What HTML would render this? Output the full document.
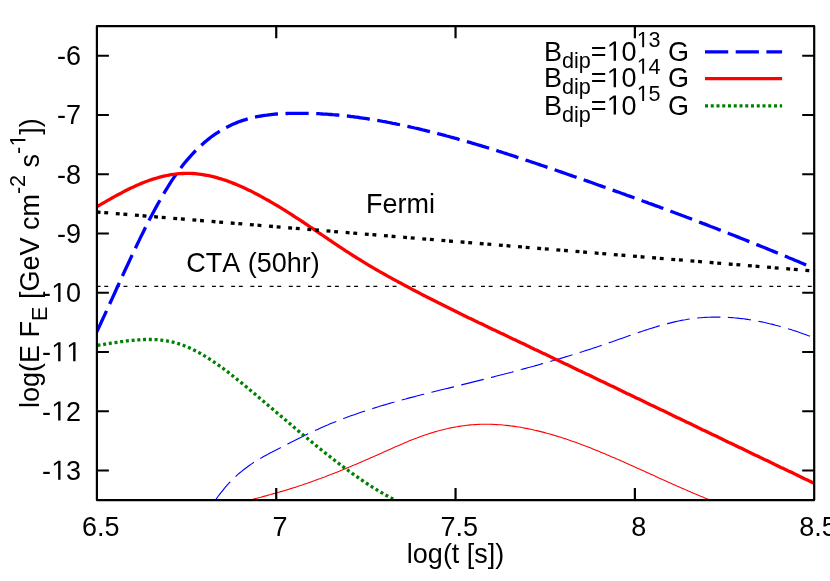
<!DOCTYPE html>
<html>
<head>
<meta charset="utf-8">
<title>plot</title>
<style>
html,body{margin:0;padding:0;background:#fff;}
body{width:830px;height:581px;overflow:hidden;}
svg{display:block;will-change:transform;}
text{font-family:"Liberation Sans",sans-serif;font-size:27.0px;fill:#000;font-kerning:none;}
.o{fill:none;}
</style>
</head>
<body>
<svg width="830" height="581" viewBox="0 0 830 581">
<rect width="830" height="581" fill="#fff"/>
<defs><clipPath id="c"><rect x="96.9" y="26.15" width="717.30" height="473.95"/></clipPath></defs>
<g clip-path="url(#c)" fill="none">
<path d="M215.6,499.8 L217.6,497.0 L219.6,494.3 L221.6,491.8 L223.6,489.3 L225.6,486.9 L227.6,484.7 L229.6,482.5 L231.6,480.5 L233.6,478.5 L235.6,476.6 L237.6,474.7 L239.6,473.0 L241.6,471.3 L243.6,469.7 L245.6,468.2 L247.6,466.7 L249.6,465.2 L251.6,463.9 L253.6,462.5 L255.6,461.3 L257.6,460.0 L259.6,458.8 L261.6,457.7 L263.6,456.5 L265.6,455.4 L267.6,454.4 L269.6,453.3 L271.6,452.3 L273.6,451.2 L275.6,450.2 L277.6,449.2 L279.6,448.2 L281.6,447.2 L283.6,446.1 L285.6,445.1 L287.6,444.1 L289.6,443.1 L291.6,442.1 L293.6,441.1 L295.6,440.0 L297.6,439.0 L299.6,438.0 L301.6,437.0 L303.6,436.0 L305.6,435.1 L307.6,434.1 L309.6,433.1 L311.6,432.2 L313.6,431.2 L315.6,430.3 L317.6,429.4 L319.6,428.5 L321.6,427.6 L323.6,426.7 L325.6,425.8 L327.6,425.0 L329.6,424.1 L331.6,423.3 L333.6,422.5 L335.6,421.7 L337.6,420.9 L339.6,420.1 L341.6,419.3 L343.6,418.5 L345.6,417.8 L347.6,417.0 L349.6,416.3 L351.6,415.6 L353.6,414.9 L355.6,414.2 L357.6,413.5 L359.6,412.8 L361.6,412.1 L363.6,411.4 L365.6,410.8 L367.6,410.1 L369.6,409.5 L371.6,408.8 L373.6,408.2 L375.6,407.6 L377.6,407.0 L379.6,406.3 L381.6,405.7 L383.6,405.1 L385.6,404.6 L387.6,404.0 L389.6,403.4 L391.6,402.8 L393.6,402.3 L395.6,401.7 L397.6,401.1 L399.6,400.6 L401.6,400.0 L403.6,399.5 L405.6,399.0 L407.6,398.4 L409.6,397.9 L411.6,397.4 L413.6,396.9 L415.6,396.3 L417.6,395.8 L419.6,395.3 L421.6,394.8 L423.6,394.3 L425.6,393.8 L427.6,393.3 L429.6,392.8 L431.6,392.3 L433.6,391.8 L435.6,391.3 L437.6,390.8 L439.6,390.3 L441.6,389.8 L443.6,389.3 L445.6,388.8 L447.6,388.4 L449.6,387.9 L451.6,387.4 L453.6,386.9 L455.6,386.4 L457.6,385.9 L459.6,385.4 L461.6,384.9 L463.6,384.4 L465.6,383.9 L467.6,383.4 L469.6,382.9 L471.6,382.4 L473.6,381.9 L475.6,381.4 L477.6,380.9 L479.6,380.4 L481.6,379.9 L483.6,379.4 L485.6,378.9 L487.6,378.4 L489.6,377.9 L491.6,377.4 L493.6,376.9 L495.6,376.3 L497.6,375.8 L499.6,375.3 L501.6,374.8 L503.6,374.3 L505.6,373.7 L507.6,373.2 L509.6,372.7 L511.6,372.2 L513.6,371.6 L515.6,371.1 L517.6,370.5 L519.6,370.0 L521.6,369.5 L523.6,368.9 L525.6,368.4 L527.6,367.8 L529.6,367.3 L531.6,366.7 L533.6,366.2 L535.6,365.6 L537.6,365.1 L539.6,364.5 L541.6,363.9 L543.6,363.4 L545.6,362.8 L547.6,362.2 L549.6,361.6 L551.6,361.0 L553.6,360.5 L555.6,359.9 L557.6,359.3 L559.6,358.7 L561.6,358.1 L563.6,357.5 L565.6,356.9 L567.6,356.3 L569.6,355.7 L571.6,355.1 L573.6,354.4 L575.6,353.8 L577.6,353.2 L579.6,352.6 L581.6,351.9 L583.6,351.3 L585.6,350.6 L587.6,350.0 L589.6,349.4 L591.6,348.7 L593.6,348.0 L595.6,347.4 L597.6,346.7 L599.6,346.0 L601.6,345.4 L603.6,344.7 L605.6,344.0 L607.6,343.3 L609.6,342.6 L611.6,341.9 L613.6,341.2 L615.6,340.5 L617.6,339.8 L619.6,339.1 L621.6,338.4 L623.6,337.7 L625.6,337.0 L627.6,336.3 L629.6,335.6 L631.6,334.9 L633.6,334.2 L635.6,333.5 L637.6,332.8 L639.6,332.1 L641.6,331.5 L643.6,330.8 L645.6,330.1 L647.6,329.5 L649.6,328.8 L651.6,328.2 L653.6,327.6 L655.6,327.0 L657.6,326.4 L659.6,325.8 L661.6,325.2 L663.6,324.6 L665.6,324.1 L667.6,323.6 L669.6,323.1 L671.6,322.6 L673.6,322.1 L675.6,321.6 L677.6,321.2 L679.6,320.8 L681.6,320.4 L683.6,320.0 L685.6,319.7 L687.6,319.3 L689.6,319.0 L691.6,318.8 L693.6,318.5 L695.6,318.3 L697.6,318.0 L699.6,317.8 L701.6,317.7 L703.6,317.5 L705.6,317.4 L707.6,317.3 L709.6,317.2 L711.6,317.1 L713.6,317.1 L715.6,317.1 L717.6,317.1 L719.6,317.1 L721.6,317.1 L723.6,317.2 L725.6,317.3 L727.6,317.4 L729.6,317.5 L731.6,317.6 L733.6,317.8 L735.6,318.0 L737.6,318.1 L739.6,318.4 L741.6,318.6 L743.6,318.8 L745.6,319.1 L747.6,319.4 L749.6,319.7 L751.6,320.0 L753.6,320.4 L755.6,320.7 L757.6,321.1 L759.6,321.5 L761.6,321.9 L763.6,322.3 L765.6,322.7 L767.6,323.2 L769.6,323.7 L771.6,324.1 L773.6,324.6 L775.6,325.2 L777.6,325.7 L779.6,326.2 L781.6,326.8 L783.6,327.4 L785.6,328.0 L787.6,328.6 L789.6,329.2 L791.6,329.8 L793.6,330.5 L795.6,331.1 L797.6,331.8 L799.6,332.5 L801.6,333.2 L803.6,333.9 L805.6,334.6 L807.6,335.4 L809.6,336.1 L811.6,336.9 L813.6,337.7 L814.2,337.9" stroke="#0000ff" stroke-width="1.1" stroke-dasharray="23.2 7.5"/>
<path d="M250.8,499.8 L252.8,499.3 L254.8,498.7 L256.8,498.2 L258.8,497.7 L260.8,497.2 L262.8,496.6 L264.8,496.1 L266.8,495.6 L268.8,495.0 L270.8,494.5 L272.8,493.9 L274.8,493.4 L276.8,492.8 L278.8,492.2 L280.8,491.6 L282.8,491.1 L284.8,490.5 L286.8,489.9 L288.8,489.2 L290.8,488.6 L292.8,488.0 L294.8,487.4 L296.8,486.7 L298.8,486.1 L300.8,485.4 L302.8,484.8 L304.8,484.1 L306.8,483.4 L308.8,482.7 L310.8,482.0 L312.8,481.3 L314.8,480.6 L316.8,479.8 L318.8,479.1 L320.8,478.4 L322.8,477.6 L324.8,476.9 L326.8,476.1 L328.8,475.3 L330.8,474.6 L332.8,473.8 L334.8,473.0 L336.8,472.2 L338.8,471.4 L340.8,470.6 L342.8,469.8 L344.8,469.0 L346.8,468.1 L348.8,467.3 L350.8,466.5 L352.8,465.6 L354.8,464.8 L356.8,463.9 L358.8,463.1 L360.8,462.2 L362.8,461.3 L364.8,460.5 L366.8,459.6 L368.8,458.7 L370.8,457.8 L372.8,456.9 L374.8,456.1 L376.8,455.2 L378.8,454.3 L380.8,453.4 L382.8,452.5 L384.8,451.6 L386.8,450.7 L388.8,449.8 L390.8,448.9 L392.8,448.0 L394.8,447.1 L396.8,446.3 L398.8,445.4 L400.8,444.5 L402.8,443.7 L404.8,442.8 L406.8,442.0 L408.8,441.1 L410.8,440.3 L412.8,439.5 L414.8,438.7 L416.8,438.0 L418.8,437.2 L420.8,436.5 L422.8,435.8 L424.8,435.1 L426.8,434.4 L428.8,433.7 L430.8,433.1 L432.8,432.5 L434.8,431.9 L436.8,431.3 L438.8,430.8 L440.8,430.2 L442.8,429.7 L444.8,429.2 L446.8,428.8 L448.8,428.3 L450.8,427.9 L452.8,427.5 L454.8,427.1 L456.8,426.8 L458.8,426.4 L460.8,426.1 L462.8,425.8 L464.8,425.6 L466.8,425.3 L468.8,425.1 L470.8,424.9 L472.8,424.8 L474.8,424.6 L476.8,424.5 L478.8,424.4 L480.8,424.3 L482.8,424.3 L484.8,424.3 L486.8,424.3 L488.8,424.3 L490.8,424.3 L492.8,424.4 L494.8,424.5 L496.8,424.6 L498.8,424.7 L500.8,424.8 L502.8,425.0 L504.8,425.2 L506.8,425.4 L508.8,425.6 L510.8,425.9 L512.8,426.1 L514.8,426.4 L516.8,426.7 L518.8,427.0 L520.8,427.3 L522.8,427.7 L524.8,428.1 L526.8,428.4 L528.8,428.9 L530.8,429.3 L532.8,429.7 L534.8,430.2 L536.8,430.6 L538.8,431.1 L540.8,431.6 L542.8,432.1 L544.8,432.6 L546.8,433.2 L548.8,433.7 L550.8,434.3 L552.8,434.9 L554.8,435.5 L556.8,436.1 L558.8,436.7 L560.8,437.3 L562.8,438.0 L564.8,438.6 L566.8,439.3 L568.8,440.0 L570.8,440.7 L572.8,441.4 L574.8,442.1 L576.8,442.8 L578.8,443.5 L580.8,444.3 L582.8,445.0 L584.8,445.8 L586.8,446.5 L588.8,447.3 L590.8,448.1 L592.8,448.9 L594.8,449.7 L596.8,450.5 L598.8,451.3 L600.8,452.2 L602.8,453.0 L604.8,453.8 L606.8,454.7 L608.8,455.5 L610.8,456.4 L612.8,457.2 L614.8,458.1 L616.8,459.0 L618.8,459.8 L620.8,460.7 L622.8,461.6 L624.8,462.5 L626.8,463.4 L628.8,464.3 L630.8,465.2 L632.8,466.1 L634.8,467.0 L636.8,467.9 L638.8,468.8 L640.8,469.7 L642.8,470.6 L644.8,471.5 L646.8,472.4 L648.8,473.3 L650.8,474.2 L652.8,475.1 L654.8,476.0 L656.8,476.9 L658.8,477.9 L660.8,478.8 L662.8,479.7 L664.8,480.6 L666.8,481.5 L668.8,482.4 L670.8,483.3 L672.8,484.2 L674.8,485.1 L676.8,486.0 L678.8,486.8 L680.8,487.7 L682.8,488.6 L684.8,489.5 L686.8,490.3 L688.8,491.2 L690.8,492.1 L692.8,492.9 L694.8,493.8 L696.8,494.6 L698.8,495.4 L700.8,496.3 L702.8,497.1 L704.8,497.9 L706.8,498.7 L708.8,499.5 L710.0,500.0" stroke="#ff0000" stroke-width="1.1"/>
<path d="M96.9,286.4H814.2" stroke="#000" stroke-width="1.1" stroke-dasharray="3.9 3.75 3.9 7.67" stroke-dashoffset="0.25"/>
<path d="M96.8,331.9 L98.8,327.6 L100.8,323.3 L102.8,318.9 L104.8,314.6 L106.8,310.2 L108.8,305.8 L110.8,301.5 L112.8,297.1 L114.8,292.7 L116.8,288.3 L118.8,283.9 L120.8,279.5 L122.8,275.2 L124.8,270.8 L126.8,266.5 L128.8,262.2 L130.8,257.9 L132.8,253.6 L134.8,249.4 L136.8,245.2 L138.8,241.1 L140.8,236.9 L142.8,232.9 L144.8,228.8 L146.8,224.9 L148.8,220.9 L150.8,217.1 L152.8,213.3 L154.8,209.5 L156.8,205.9 L158.8,202.3 L160.8,198.7 L162.8,195.3 L164.8,191.9 L166.8,188.6 L168.8,185.4 L170.8,182.2 L172.8,179.2 L174.8,176.2 L176.8,173.4 L178.8,170.6 L180.8,167.9 L182.8,165.3 L184.8,162.8 L186.8,160.4 L188.8,158.1 L190.8,155.8 L192.8,153.6 L194.8,151.5 L196.8,149.5 L198.8,147.6 L200.8,145.7 L202.8,143.9 L204.8,142.1 L206.8,140.5 L208.8,138.9 L210.8,137.3 L212.8,135.8 L214.8,134.4 L216.8,133.1 L218.8,131.8 L220.8,130.5 L222.8,129.4 L224.8,128.2 L226.8,127.2 L228.8,126.2 L230.8,125.2 L232.8,124.3 L234.8,123.4 L236.8,122.6 L238.8,121.8 L240.8,121.1 L242.8,120.4 L244.8,119.8 L246.8,119.2 L248.8,118.6 L250.8,118.1 L252.8,117.6 L254.8,117.1 L256.8,116.7 L258.8,116.3 L260.8,116.0 L262.8,115.6 L264.8,115.3 L266.8,115.1 L268.8,114.8 L270.8,114.6 L272.8,114.4 L274.8,114.2 L276.8,114.0 L278.8,113.9 L280.8,113.8 L282.8,113.7 L284.8,113.6 L286.8,113.5 L288.8,113.4 L290.8,113.4 L292.8,113.3 L294.8,113.3 L296.8,113.3 L298.8,113.3 L300.8,113.3 L302.8,113.3 L304.8,113.3 L306.8,113.3 L308.8,113.4 L310.8,113.4 L312.8,113.5 L314.8,113.6 L316.8,113.7 L318.8,113.7 L320.8,113.8 L322.8,114.0 L324.8,114.1 L326.8,114.2 L328.8,114.4 L330.8,114.5 L332.8,114.7 L334.8,114.8 L336.8,115.0 L338.8,115.2 L340.8,115.4 L342.8,115.6 L344.8,115.8 L346.8,116.0 L348.8,116.2 L350.8,116.5 L352.8,116.7 L354.8,117.0 L356.8,117.2 L358.8,117.5 L360.8,117.8 L362.8,118.1 L364.8,118.4 L366.8,118.7 L368.8,119.0 L370.8,119.3 L372.8,119.6 L374.8,120.0 L376.8,120.3 L378.8,120.6 L380.8,121.0 L382.8,121.4 L384.8,121.7 L386.8,122.1 L388.8,122.5 L390.8,122.9 L392.8,123.3 L394.8,123.6 L396.8,124.1 L398.8,124.5 L400.8,124.9 L402.8,125.3 L404.8,125.7 L406.8,126.2 L408.8,126.6 L410.8,127.1 L412.8,127.5 L414.8,128.0 L416.8,128.4 L418.8,128.9 L420.8,129.4 L422.8,129.9 L424.8,130.3 L426.8,130.8 L428.8,131.3 L430.8,131.8 L432.8,132.3 L434.8,132.8 L436.8,133.3 L438.8,133.9 L440.8,134.4 L442.8,134.9 L444.8,135.4 L446.8,136.0 L448.8,136.5 L450.8,137.1 L452.8,137.6 L454.8,138.2 L456.8,138.7 L458.8,139.3 L460.8,139.8 L462.8,140.4 L464.8,141.0 L466.8,141.6 L468.8,142.1 L470.8,142.7 L472.8,143.3 L474.8,143.9 L476.8,144.5 L478.8,145.1 L480.8,145.7 L482.8,146.3 L484.8,146.9 L486.8,147.5 L488.8,148.1 L490.8,148.8 L492.8,149.4 L494.8,150.0 L496.8,150.6 L498.8,151.3 L500.8,151.9 L502.8,152.5 L504.8,153.2 L506.8,153.8 L508.8,154.5 L510.8,155.1 L512.8,155.7 L514.8,156.4 L516.8,157.1 L518.8,157.7 L520.8,158.4 L522.8,159.0 L524.8,159.7 L526.8,160.4 L528.8,161.0 L530.8,161.7 L532.8,162.4 L534.8,163.0 L536.8,163.7 L538.8,164.4 L540.8,165.1 L542.8,165.7 L544.8,166.4 L546.8,167.1 L548.8,167.8 L550.8,168.5 L552.8,169.1 L554.8,169.8 L556.8,170.5 L558.8,171.2 L560.8,171.9 L562.8,172.6 L564.8,173.3 L566.8,174.0 L568.8,174.7 L570.8,175.4 L572.8,176.1 L574.8,176.7 L576.8,177.4 L578.8,178.1 L580.8,178.8 L582.8,179.5 L584.8,180.2 L586.8,180.9 L588.8,181.6 L590.8,182.3 L592.8,183.0 L594.8,183.8 L596.8,184.5 L598.8,185.2 L600.8,185.9 L602.8,186.6 L604.8,187.3 L606.8,188.0 L608.8,188.7 L610.8,189.4 L612.8,190.1 L614.8,190.9 L616.8,191.6 L618.8,192.3 L620.8,193.0 L622.8,193.7 L624.8,194.4 L626.8,195.2 L628.8,195.9 L630.8,196.6 L632.8,197.3 L634.8,198.1 L636.8,198.8 L638.8,199.5 L640.8,200.2 L642.8,201.0 L644.8,201.7 L646.8,202.4 L648.8,203.2 L650.8,203.9 L652.8,204.6 L654.8,205.4 L656.8,206.1 L658.8,206.8 L660.8,207.6 L662.8,208.3 L664.8,209.1 L666.8,209.8 L668.8,210.5 L670.8,211.3 L672.8,212.0 L674.8,212.8 L676.8,213.5 L678.8,214.3 L680.8,215.0 L682.8,215.8 L684.8,216.5 L686.8,217.3 L688.8,218.0 L690.8,218.8 L692.8,219.6 L694.8,220.3 L696.8,221.1 L698.8,221.8 L700.8,222.6 L702.8,223.4 L704.8,224.1 L706.8,224.9 L708.8,225.7 L710.8,226.5 L712.8,227.2 L714.8,228.0 L716.8,228.8 L718.8,229.6 L720.8,230.3 L722.8,231.1 L724.8,231.9 L726.8,232.7 L728.8,233.5 L730.8,234.2 L732.8,235.0 L734.8,235.8 L736.8,236.6 L738.8,237.4 L740.8,238.2 L742.8,239.0 L744.8,239.8 L746.8,240.6 L748.8,241.4 L750.8,242.2 L752.8,243.0 L754.8,243.8 L756.8,244.6 L758.8,245.4 L760.8,246.2 L762.8,247.0 L764.8,247.8 L766.8,248.6 L768.8,249.4 L770.8,250.3 L772.8,251.1 L774.8,251.9 L776.8,252.7 L778.8,253.5 L780.8,254.4 L782.8,255.2 L784.8,256.0 L786.8,256.8 L788.8,257.7 L790.8,258.5 L792.8,259.3 L794.8,260.2 L796.8,261.0 L798.8,261.8 L800.8,262.7 L802.8,263.5 L804.8,264.4 L806.8,265.2 L808.8,266.1 L810.8,266.9 L811.0,267.0" stroke="#0000ff" stroke-width="3.3" stroke-dasharray="23.2 7.53"/>
<path d="M96.9,206.7 L98.9,205.5 L100.9,204.4 L102.9,203.2 L104.9,202.1 L106.9,200.9 L108.9,199.8 L110.9,198.6 L112.9,197.5 L114.9,196.4 L116.9,195.3 L118.9,194.2 L120.9,193.2 L122.9,192.1 L124.9,191.1 L126.9,190.1 L128.9,189.1 L130.9,188.1 L132.9,187.2 L134.9,186.2 L136.9,185.3 L138.9,184.5 L140.9,183.6 L142.9,182.8 L144.9,182.0 L146.9,181.3 L148.9,180.5 L150.9,179.8 L152.9,179.2 L154.9,178.6 L156.9,178.0 L158.9,177.4 L160.9,176.9 L162.9,176.4 L164.9,175.9 L166.9,175.5 L168.9,175.1 L170.9,174.7 L172.9,174.4 L174.9,174.2 L176.9,173.9 L178.9,173.7 L180.9,173.6 L182.9,173.5 L184.9,173.4 L186.9,173.4 L188.9,173.4 L190.9,173.4 L192.9,173.5 L194.9,173.7 L196.9,173.9 L198.9,174.1 L200.9,174.3 L202.9,174.6 L204.9,175.0 L206.9,175.3 L208.9,175.7 L210.9,176.2 L212.9,176.6 L214.9,177.1 L216.9,177.7 L218.9,178.3 L220.9,178.9 L222.9,179.5 L224.9,180.1 L226.9,180.8 L228.9,181.6 L230.9,182.3 L232.9,183.1 L234.9,183.9 L236.9,184.7 L238.9,185.6 L240.9,186.4 L242.9,187.3 L244.9,188.3 L246.9,189.2 L248.9,190.2 L250.9,191.1 L252.9,192.1 L254.9,193.2 L256.9,194.2 L258.9,195.3 L260.9,196.4 L262.9,197.4 L264.9,198.6 L266.9,199.7 L268.9,200.8 L270.9,202.0 L272.9,203.1 L274.9,204.3 L276.9,205.5 L278.9,206.7 L280.9,207.9 L282.9,209.2 L284.9,210.4 L286.9,211.7 L288.9,212.9 L290.9,214.2 L292.9,215.5 L294.9,216.8 L296.9,218.1 L298.9,219.4 L300.9,220.7 L302.9,222.0 L304.9,223.3 L306.9,224.7 L308.9,226.0 L310.9,227.4 L312.9,228.7 L314.9,230.1 L316.9,231.4 L318.9,232.8 L320.9,234.1 L322.9,235.5 L324.9,236.9 L326.9,238.2 L328.9,239.6 L330.9,240.9 L332.9,242.3 L334.9,243.6 L336.9,245.0 L338.9,246.3 L340.9,247.6 L342.9,249.0 L344.9,250.3 L346.9,251.6 L348.9,252.9 L350.9,254.2 L352.9,255.5 L354.9,256.7 L356.9,258.0 L358.9,259.2 L360.9,260.4 L362.9,261.7 L364.9,262.9 L366.9,264.1 L368.9,265.3 L370.9,266.5 L372.9,267.6 L374.9,268.8 L376.9,270.0 L378.9,271.1 L380.9,272.3 L382.9,273.4 L384.9,274.5 L386.9,275.6 L388.9,276.8 L390.9,277.9 L392.9,279.0 L394.9,280.1 L396.9,281.1 L398.9,282.2 L400.9,283.3 L402.9,284.4 L404.9,285.5 L406.9,286.5 L408.9,287.6 L410.9,288.6 L412.9,289.7 L414.9,290.7 L416.9,291.8 L418.9,292.8 L420.9,293.9 L422.9,294.9 L424.9,295.9 L426.9,297.0 L428.9,298.0 L430.9,299.0 L432.9,300.0 L434.9,301.0 L436.9,302.0 L438.9,303.1 L440.9,304.1 L442.9,305.1 L444.9,306.1 L446.9,307.1 L448.9,308.0 L450.9,309.0 L452.9,310.0 L454.9,311.0 L456.9,312.0 L458.9,313.0 L460.9,314.0 L462.9,314.9 L464.9,315.9 L466.9,316.9 L468.9,317.9 L470.9,318.8 L472.9,319.8 L474.9,320.8 L476.9,321.7 L478.9,322.7 L480.9,323.6 L482.9,324.6 L484.9,325.6 L486.9,326.5 L488.9,327.5 L490.9,328.4 L492.9,329.4 L494.9,330.3 L496.9,331.3 L498.9,332.2 L500.9,333.2 L502.9,334.1 L504.9,335.1 L506.9,336.0 L508.9,337.0 L510.9,337.9 L512.9,338.9 L514.9,339.8 L516.9,340.8 L518.9,341.7 L520.9,342.7 L522.9,343.6 L524.9,344.6 L526.9,345.6 L528.9,346.5 L530.9,347.5 L532.9,348.4 L534.9,349.4 L536.9,350.3 L538.9,351.3 L540.9,352.2 L542.9,353.2 L544.9,354.1 L546.9,355.1 L548.9,356.0 L550.9,357.0 L552.9,357.9 L554.9,358.9 L556.9,359.8 L558.9,360.8 L560.9,361.8 L562.9,362.7 L564.9,363.7 L566.9,364.6 L568.9,365.6 L570.9,366.5 L572.9,367.5 L574.9,368.4 L576.9,369.4 L578.9,370.4 L580.9,371.3 L582.9,372.3 L584.9,373.2 L586.9,374.2 L588.9,375.1 L590.9,376.1 L592.9,377.1 L594.9,378.0 L596.9,379.0 L598.9,379.9 L600.9,380.9 L602.9,381.8 L604.9,382.8 L606.9,383.8 L608.9,384.7 L610.9,385.7 L612.9,386.6 L614.9,387.6 L616.9,388.6 L618.9,389.5 L620.9,390.5 L622.9,391.4 L624.9,392.4 L626.9,393.4 L628.9,394.3 L630.9,395.3 L632.9,396.2 L634.9,397.2 L636.9,398.2 L638.9,399.1 L640.9,400.1 L642.9,401.0 L644.9,402.0 L646.9,403.0 L648.9,403.9 L650.9,404.9 L652.9,405.8 L654.9,406.8 L656.9,407.8 L658.9,408.7 L660.9,409.7 L662.9,410.6 L664.9,411.6 L666.9,412.6 L668.9,413.5 L670.9,414.5 L672.9,415.5 L674.9,416.4 L676.9,417.4 L678.9,418.3 L680.9,419.3 L682.9,420.3 L684.9,421.2 L686.9,422.2 L688.9,423.1 L690.9,424.1 L692.9,425.1 L694.9,426.0 L696.9,427.0 L698.9,428.0 L700.9,428.9 L702.9,429.9 L704.9,430.8 L706.9,431.8 L708.9,432.8 L710.9,433.7 L712.9,434.7 L714.9,435.6 L716.9,436.6 L718.9,437.6 L720.9,438.5 L722.9,439.5 L724.9,440.5 L726.9,441.4 L728.9,442.4 L730.9,443.3 L732.9,444.3 L734.9,445.3 L736.9,446.2 L738.9,447.2 L740.9,448.1 L742.9,449.1 L744.9,450.1 L746.9,451.0 L748.9,452.0 L750.9,452.9 L752.9,453.9 L754.9,454.9 L756.9,455.8 L758.9,456.8 L760.9,457.8 L762.9,458.7 L764.9,459.7 L766.9,460.6 L768.9,461.6 L770.9,462.6 L772.9,463.5 L774.9,464.5 L776.9,465.4 L778.9,466.4 L780.9,467.4 L782.9,468.3 L784.9,469.3 L786.9,470.2 L788.9,471.2 L790.9,472.1 L792.9,473.1 L794.9,474.1 L796.9,475.0 L798.9,476.0 L800.9,476.9 L802.9,477.9 L804.9,478.9 L806.9,479.8 L808.9,480.8 L810.9,481.7 L812.9,482.7 L814.2,483.3" stroke="#ff0000" stroke-width="3.3"/>
<path d="M96.9,345.6 L98.9,345.2 L100.9,344.9 L102.9,344.6 L104.9,344.2 L106.9,343.9 L108.9,343.6 L110.9,343.2 L112.9,342.9 L114.9,342.6 L116.9,342.3 L118.9,342.0 L120.9,341.7 L122.9,341.5 L124.9,341.2 L126.9,340.9 L128.9,340.7 L130.9,340.5 L132.9,340.3 L134.9,340.1 L136.9,339.9 L138.9,339.8 L140.9,339.7 L142.9,339.6 L144.9,339.5 L146.9,339.5 L148.9,339.5 L150.9,339.5 L152.9,339.5 L154.9,339.6 L156.9,339.7 L158.9,339.9 L160.9,340.1 L162.9,340.3 L164.9,340.6 L166.9,340.9 L168.9,341.3 L170.9,341.7 L172.9,342.1 L174.9,342.6 L176.9,343.2 L178.9,343.8 L180.9,344.5 L182.9,345.2 L184.9,346.0 L186.9,346.8 L188.9,347.6 L190.9,348.5 L192.9,349.5 L194.9,350.5 L196.9,351.5 L198.9,352.6 L200.9,353.7 L202.9,354.9 L204.9,356.1 L206.9,357.3 L208.9,358.6 L210.9,359.9 L212.9,361.2 L214.9,362.6 L216.9,364.0 L218.9,365.4 L220.9,366.8 L222.9,368.3 L224.9,369.8 L226.9,371.3 L228.9,372.8 L230.9,374.4 L232.9,376.0 L234.9,377.6 L236.9,379.2 L238.9,380.8 L240.9,382.4 L242.9,384.0 L244.9,385.7 L246.9,387.3 L248.9,389.0 L250.9,390.7 L252.9,392.4 L254.9,394.0 L256.9,395.7 L258.9,397.4 L260.9,399.1 L262.9,400.8 L264.9,402.5 L266.9,404.2 L268.9,405.9 L270.9,407.6 L272.9,409.3 L274.9,411.0 L276.9,412.7 L278.9,414.4 L280.9,416.1 L282.9,417.8 L284.9,419.5 L286.9,421.2 L288.9,422.9 L290.9,424.6 L292.9,426.3 L294.9,428.0 L296.9,429.7 L298.9,431.4 L300.9,433.0 L302.9,434.7 L304.9,436.4 L306.9,438.0 L308.9,439.7 L310.9,441.3 L312.9,443.0 L314.9,444.6 L316.9,446.2 L318.9,447.9 L320.9,449.5 L322.9,451.1 L324.9,452.7 L326.9,454.3 L328.9,455.8 L330.9,457.4 L332.9,459.0 L334.9,460.5 L336.9,462.0 L338.9,463.6 L340.9,465.1 L342.9,466.6 L344.9,468.1 L346.9,469.5 L348.9,471.0 L350.9,472.4 L352.9,473.9 L354.9,475.3 L356.9,476.7 L358.9,478.1 L360.9,479.5 L362.9,480.8 L364.9,482.2 L366.9,483.5 L368.9,484.8 L370.9,486.1 L372.9,487.4 L374.9,488.6 L376.9,489.8 L378.9,491.1 L380.9,492.3 L382.9,493.4 L384.9,494.6 L386.9,495.7 L388.9,496.9 L390.9,497.9 L392.9,499.0 L393.6,499.4" stroke="#008000" stroke-width="3.3" stroke-dasharray="3 2.75" stroke-dashoffset="-0.6"/>
<path d="M96.9,212.0L812,270.85" stroke="#000" stroke-width="3.3" stroke-dasharray="3.9 3.75 3.9 7.67" stroke-dashoffset="0.25"/>
</g>
<g fill="none" stroke="#000" stroke-width="2.2" stroke-linejoin="round">
<path d="M96.9,470.48h12M814.2,470.48h-12"/><path d="M96.9,411.23h12M814.2,411.23h-12"/><path d="M96.9,351.99h12M814.2,351.99h-12"/><path d="M96.9,292.75h12M814.2,292.75h-12"/><path d="M96.9,233.50h12M814.2,233.50h-12"/><path d="M96.9,174.26h12M814.2,174.26h-12"/><path d="M96.9,115.02h12M814.2,115.02h-12"/><path d="M96.9,55.77h12M814.2,55.77h-12"/><path d="M276.23,500.1v-12M276.23,26.15v12"/><path d="M455.55,500.1v-12M455.55,26.15v12"/><path d="M634.88,500.1v-12M634.88,26.15v12"/>
<rect x="96.9" y="26.15" width="717.30" height="473.95"/>
</g>
<g fill="none">
<path d="M705,51.9H782.1" stroke="#0000ff" stroke-width="3.3" stroke-dasharray="23.2 7.5"/>
<path d="M705,78.7H782.1" stroke="#ff0000" stroke-width="3.3"/>
<path d="M705,105.8H782.1" stroke="#008000" stroke-width="3.3" stroke-dasharray="3 2.75"/>
</g>
<text transform="translate(81.00,479.78) scale(1,1.03)" text-anchor="end">-<tspan class="o">1</tspan>3</text><text transform="translate(81.00,420.53) scale(1,1.03)" text-anchor="end">-<tspan class="o">1</tspan>2</text><text transform="translate(81.00,361.29) scale(1,1.03)" text-anchor="end">-<tspan class="o">1</tspan><tspan class="o">1</tspan></text><text transform="translate(81.00,302.05) scale(1,1.03)" text-anchor="end">-<tspan class="o">1</tspan>0</text><text transform="translate(81.00,242.80) scale(1,1.03)" text-anchor="end">-9</text><text transform="translate(81.00,183.56) scale(1,1.03)" text-anchor="end">-8</text><text transform="translate(81.00,124.32) scale(1,1.03)" text-anchor="end">-7</text><text transform="translate(81.00,65.07) scale(1,1.03)" text-anchor="end">-6</text>
<text transform="translate(100.70,536.20) scale(1,1.03)" text-anchor="middle">6.5</text><text transform="translate(280.03,536.20) scale(1,1.03)" text-anchor="middle">7</text><text transform="translate(459.35,536.20) scale(1,1.03)" text-anchor="middle">7.5</text><text transform="translate(638.67,536.20) scale(1,1.03)" text-anchor="middle">8</text><text transform="translate(818.00,536.20) scale(1,1.03)" text-anchor="middle">8.5</text>
<text transform="translate(689.00,60.70) scale(1,1.03)" text-anchor="end">B<tspan font-size="21.60" dy="6.9">dip</tspan><tspan dy="-6.9">=<tspan class="o">1</tspan>0</tspan><tspan font-size="21.60" dy="-13.1"><tspan class="o">1</tspan>3</tspan><tspan dy="13.1"> G</tspan></text>
<text transform="translate(689.00,87.30) scale(1,1.03)" text-anchor="end">B<tspan font-size="21.60" dy="6.9">dip</tspan><tspan dy="-6.9">=<tspan class="o">1</tspan>0</tspan><tspan font-size="21.60" dy="-13.1"><tspan class="o">1</tspan>4</tspan><tspan dy="13.1"> G</tspan></text>
<text transform="translate(689.00,114.60) scale(1,1.03)" text-anchor="end">B<tspan font-size="21.60" dy="6.9">dip</tspan><tspan dy="-6.9">=<tspan class="o">1</tspan>0</tspan><tspan font-size="21.60" dy="-13.1"><tspan class="o">1</tspan>5</tspan><tspan dy="13.1"> G</tspan></text>
<text transform="translate(366.00,212.50) scale(1,1.03)">Fermi</text>
<text transform="translate(186.30,271.60) scale(1,1.03)">CTA (50hr)</text>
<text transform="translate(455.60,562.90) scale(1,1.03)" text-anchor="middle">log(t [s])</text>
<text transform="translate(38.70,263.10) rotate(-90) scale(1,1.03)" text-anchor="middle">log(E F<tspan font-size="21.60" dy="8.0">E</tspan><tspan dy="-8.0"> [GeV cm</tspan><tspan font-size="21.60" dy="-12.9">-2</tspan><tspan dy="12.9"> s</tspan><tspan font-size="21.60" dy="-12.9">-<tspan class="o">1</tspan></tspan><tspan dy="12.9">])</tspan></text>
<g fill="#000"><path transform="translate(81.00,479.78) scale(1,1.03)" d="M-22.87,0.00L-22.87,-16.31L-27.07,-13.32L-27.07,-15.56L-22.68,-18.58L-20.49,-18.58L-20.49,0.00Z"/><path transform="translate(81.00,420.53) scale(1,1.03)" d="M-22.87,0.00L-22.87,-16.31L-27.07,-13.32L-27.07,-15.56L-22.68,-18.58L-20.49,-18.58L-20.49,0.00Z"/><path transform="translate(81.00,361.29) scale(1,1.03)" d="M-22.87,0.00L-22.87,-16.31L-27.07,-13.32L-27.07,-15.56L-22.68,-18.58L-20.49,-18.58L-20.49,0.00Z"/><path transform="translate(81.00,361.29) scale(1,1.03)" d="M-7.87,0.00L-7.87,-16.31L-12.06,-13.32L-12.06,-15.56L-7.67,-18.58L-5.48,-18.58L-5.48,0.00Z"/><path transform="translate(81.00,302.05) scale(1,1.03)" d="M-22.87,0.00L-22.87,-16.31L-27.07,-13.32L-27.07,-15.56L-22.68,-18.58L-20.49,-18.58L-20.49,0.00Z"/><path transform="translate(689.00,60.70) scale(1,1.03)" d="M-75.38,0.00L-75.38,-16.31L-79.57,-13.32L-79.57,-15.56L-75.18,-18.58L-72.99,-18.58L-72.99,0.00Z"/><path transform="translate(689.00,60.70) scale(1,1.03)" d="M-46.79,-13.10L-46.79,-26.15L-50.14,-23.75L-50.14,-25.55L-46.63,-27.96L-44.88,-27.96L-44.88,-13.10Z"/><path transform="translate(689.00,87.30) scale(1,1.03)" d="M-75.38,0.00L-75.38,-16.31L-79.57,-13.32L-79.57,-15.56L-75.18,-18.58L-72.99,-18.58L-72.99,0.00Z"/><path transform="translate(689.00,87.30) scale(1,1.03)" d="M-46.79,-13.10L-46.79,-26.15L-50.14,-23.75L-50.14,-25.55L-46.63,-27.96L-44.88,-27.96L-44.88,-13.10Z"/><path transform="translate(689.00,114.60) scale(1,1.03)" d="M-75.38,0.00L-75.38,-16.31L-79.57,-13.32L-79.57,-15.56L-75.18,-18.58L-72.99,-18.58L-72.99,0.00Z"/><path transform="translate(689.00,114.60) scale(1,1.03)" d="M-46.79,-13.10L-46.79,-26.15L-50.14,-23.75L-50.14,-25.55L-46.63,-27.96L-44.88,-27.96L-44.88,-13.10Z"/><path transform="translate(38.70,263.10) rotate(-90) scale(1,1.03)" d="M122.08,-12.90L122.08,-25.95L118.73,-23.55L118.73,-25.35L122.24,-27.76L123.99,-27.76L123.99,-12.90Z"/></g>
</svg>
</body>
</html>
